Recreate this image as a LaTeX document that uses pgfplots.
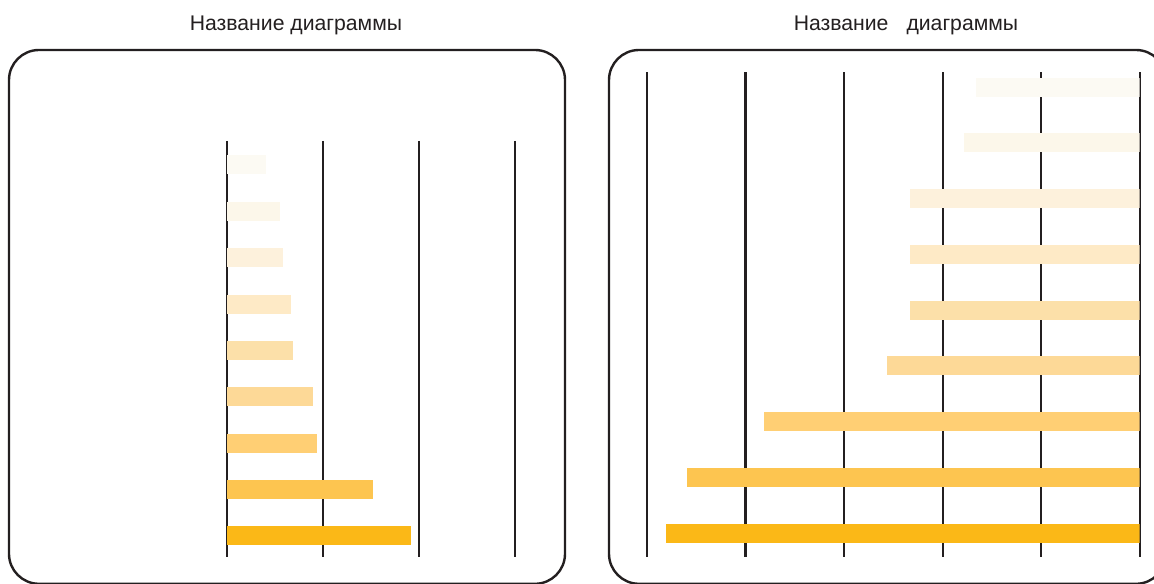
\documentclass[border=0pt]{standalone}
\usepackage{pgfplots}
\pgfplotsset{compat=1.18}
\usepackage{fontspec}
\setmainfont{Liberation Sans}

\definecolor{c1}{HTML}{FCFAF3}
\definecolor{c2}{HTML}{FCF7EA}
\definecolor{c3}{HTML}{FDF1DC}
\definecolor{c4}{HTML}{FEEAC6}
\definecolor{c5}{HTML}{FCE0A9}
\definecolor{c6}{HTML}{FDD997}
\definecolor{c7}{HTML}{FFCF74}
\definecolor{c8}{HTML}{FDC550}
\definecolor{c9}{HTML}{FBB817}
\definecolor{ink}{HTML}{231F20}

\pgfplotsset{
  panel/.style={
    scale only axis,
    anchor=south west,
    y dir=reverse,
    axis line style={draw=none},
    tick style={draw=none},
    xticklabels={}, ytick=\empty,
    xmajorgrids=true,
    grid style={ink, line width=1.1pt},
    xbar, bar shift=0pt,
    every axis plot/.append style={draw=none},
  },
}

\begin{document}
\begin{tikzpicture}
  \path[use as bounding box] (0,0) rectangle (577pt,291.5pt);

  % frames
  \draw[ink, line width=1.2pt, rounded corners=15pt] (4.5pt,-0.4pt) rectangle (282.5pt,266.5pt);
  \draw[ink, line width=1.2pt, rounded corners=15pt] (304.5pt,-0.4pt) rectangle (583pt,266.5pt);

  % titles
  \node[anchor=base, font=\fontsize{10.6pt}{12pt}\selectfont, text=ink] at (148pt,276pt) {Название диаграммы};
  \node[anchor=base, font=\fontsize{10.6pt}{12pt}\selectfont, text=ink] at (453pt,276pt) {Название\hspace{0.85em}диаграммы};

  % left chart
  \begin{axis}[panel,
      at={(113.35pt,13pt)},
      width=144pt, height=208pt,
      xmin=0, xmax=3, xtick={0,1,2,3},
      ymin=0.483, ymax=9.453,
      bar width=9.5pt,
    ]
    \addplot[fill=c1] coordinates {(0.41,1)};
    \addplot[fill=c2] coordinates {(0.55,2)};
    \addplot[fill=c3] coordinates {(0.59,3)};
    \addplot[fill=c4] coordinates {(0.67,4)};
    \addplot[fill=c5] coordinates {(0.69,5)};
    \addplot[fill=c6] coordinates {(0.90,6)};
    \addplot[fill=c7] coordinates {(0.94,7)};
    \addplot[fill=c8] coordinates {(1.52,8)};
    \addplot[fill=c9] coordinates {(1.92,9)};
  \end{axis}

  % right chart (reversed)
  \begin{axis}[panel,
      at={(323.5pt,13pt)},
      width=246.35pt, height=242.5pt,
      x dir=reverse,
      xmin=0, xmax=5, xtick={0,1,2,3,4,5},
      ymin=0.731, ymax=9.43,
      bar width=9.5pt,
    ]
    \addplot[fill=c1] coordinates {(1.66,1)};
    \addplot[fill=c2] coordinates {(1.78,2)};
    \addplot[fill=c3] coordinates {(2.33,3)};
    \addplot[fill=c4] coordinates {(2.33,4)};
    \addplot[fill=c5] coordinates {(2.33,5)};
    \addplot[fill=c6] coordinates {(2.56,6)};
    \addplot[fill=c7] coordinates {(3.81,7)};
    \addplot[fill=c8] coordinates {(4.59,8)};
    \addplot[fill=c9] coordinates {(4.81,9)};
  \end{axis}
\end{tikzpicture}
\end{document}
